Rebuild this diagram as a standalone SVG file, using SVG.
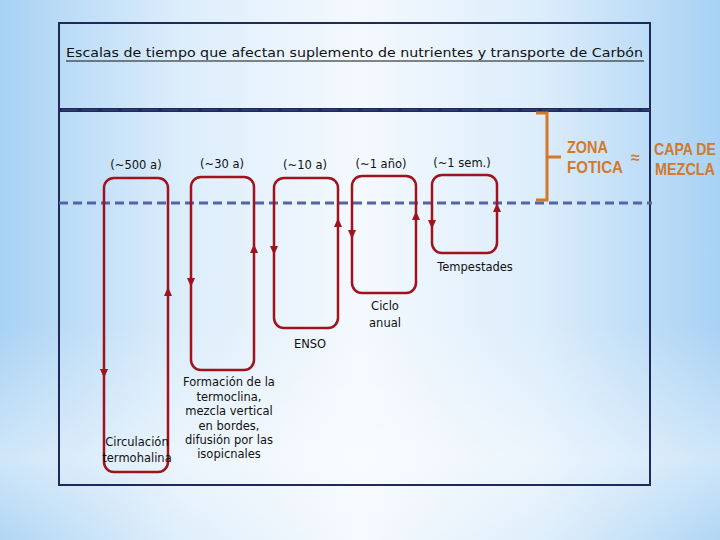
<svg xmlns="http://www.w3.org/2000/svg" width="720" height="540" viewBox="0 0 720 540">
<defs>
<linearGradient id="bg" x1="0" y1="0" x2="1" y2="0">
<stop offset="0" stop-color="#a8d2f4"/>
<stop offset="0.25" stop-color="#dcedfb"/>
<stop offset="0.5" stop-color="#f4f9fe"/>
<stop offset="0.75" stop-color="#dcedfb"/>
<stop offset="1" stop-color="#a8d2f4"/>
</linearGradient>
<linearGradient id="bgv" x1="0" y1="0" x2="0" y2="1">
<stop offset="0" stop-color="#ffffff" stop-opacity="0"/>
<stop offset="0.6" stop-color="#ffffff" stop-opacity="0"/>
<stop offset="0.85" stop-color="#ffffff" stop-opacity="0.45"/>
<stop offset="1" stop-color="#ffffff" stop-opacity="0.1"/>
</linearGradient>
<path id="ad" d="M-4,-5 L4,-5 L0,4 Z"/>
<path id="au" d="M-4,5 L4,5 L0,-4 Z"/>
</defs>
<style>
.loop{fill:none;stroke:#a0121c;stroke-width:2.5}
.arr{fill:#a0121c}
.lbl{font-family:"DejaVu Sans","Liberation Sans",sans-serif;font-size:11.5px;fill:#111;text-anchor:middle}
.or{font-family:"Liberation Sans","DejaVu Sans",sans-serif;font-size:17px;font-weight:bold;fill:#d2792b}
</style>
<rect width="720" height="540" fill="url(#bg)"/>
<rect width="720" height="540" fill="url(#bgv)"/>
<rect id="frame" x="59" y="23" width="591" height="462" fill="none" stroke="#1f2a5a" stroke-width="2"/>
<g id="title">
<text x="66" y="57" class="lbl" style="text-anchor:start;font-size:13px" textLength="577" lengthAdjust="spacingAndGlyphs">Escalas de tiempo que afectan suplemento de nutrientes y transporte de Carbón</text>
<line x1="66" y1="61" x2="644" y2="61" stroke="#111" stroke-width="1"/>
</g>
<g id="levels">
<line x1="59" y1="110" x2="650" y2="110" stroke="#1f2a5a" stroke-width="4"/>
<line x1="62" y1="110" x2="650" y2="110" stroke="#3a4a8a" stroke-width="1.2" stroke-dasharray="16 4"/>
<line x1="59" y1="203" x2="652" y2="203" stroke="#5563a8" stroke-width="3" stroke-dasharray="9 5"/>
</g>
<g id="zona-fotica">
<path d="M536,113 H547 V200 H536 M547,157 H561" fill="none" stroke="#d2792b" stroke-width="3"/>
<text x="567" y="153" class="or" textLength="41" lengthAdjust="spacingAndGlyphs">ZONA</text>
<text x="567" y="173" class="or" textLength="56" lengthAdjust="spacingAndGlyphs">FOTICA</text>
<text x="631" y="163" class="or" style="font-size:16px">≈</text>
<text x="654" y="155" class="or" textLength="62" lengthAdjust="spacingAndGlyphs">CAPA DE</text>
<text x="655" y="175" class="or" textLength="60" lengthAdjust="spacingAndGlyphs">MEZCLA</text>
</g>
<g id="connectors">
<g id="loop-500">
<rect class="loop" x="104" y="178" width="64" height="294" rx="10"/>
<use href="#ad" class="arr" x="104" y="374"/>
<use href="#au" class="arr" x="168" y="291"/>
</g>
<g id="loop-30">
<rect class="loop" x="191" y="177" width="63" height="193" rx="10"/>
<use href="#ad" class="arr" x="191" y="283"/>
<use href="#au" class="arr" x="254" y="248"/>
</g>
<g id="loop-10">
<rect class="loop" x="274" y="178" width="64" height="150" rx="10"/>
<use href="#ad" class="arr" x="274" y="251"/>
<use href="#au" class="arr" x="338" y="222"/>
</g>
<g id="loop-1ano">
<rect class="loop" x="352" y="176" width="64" height="117" rx="10"/>
<use href="#ad" class="arr" x="352" y="235"/>
<use href="#au" class="arr" x="416" y="215"/>
</g>
<g id="loop-1sem">
<rect class="loop" x="432" y="175" width="65" height="78" rx="10"/>
<use href="#ad" class="arr" x="432" y="225"/>
<use href="#au" class="arr" x="497" y="207"/>
</g>
</g>
<g id="node-500">
<text class="lbl" x="136" y="169">(~500 a)</text>
<text class="lbl" x="137" y="446">Circulación</text>
<text class="lbl" x="137" y="462">termohalina</text>
</g>
<g id="node-30">
<text class="lbl" x="222" y="168">(~30 a)</text>
<text class="lbl" x="229" y="386">Formación de la</text>
<text class="lbl" x="229" y="401">termoclina,</text>
<text class="lbl" x="229" y="415">mezcla vertical</text>
<text class="lbl" x="229" y="430">en bordes,</text>
<text class="lbl" x="229" y="444">difusión por las</text>
<text class="lbl" x="229" y="458">isopicnales</text>
</g>
<g id="node-10">
<text class="lbl" x="305" y="169">(~10 a)</text>
<text class="lbl" x="310" y="348">ENSO</text>
</g>
<g id="node-1ano">
<text class="lbl" x="381" y="168">(~1 año)</text>
<text class="lbl" x="385" y="310">Ciclo</text>
<text class="lbl" x="385" y="327">anual</text>
</g>
<g id="node-1sem">
<text class="lbl" x="462" y="167">(~1 sem.)</text>
<text class="lbl" x="475" y="271">Tempestades</text>
</g>
</svg>
